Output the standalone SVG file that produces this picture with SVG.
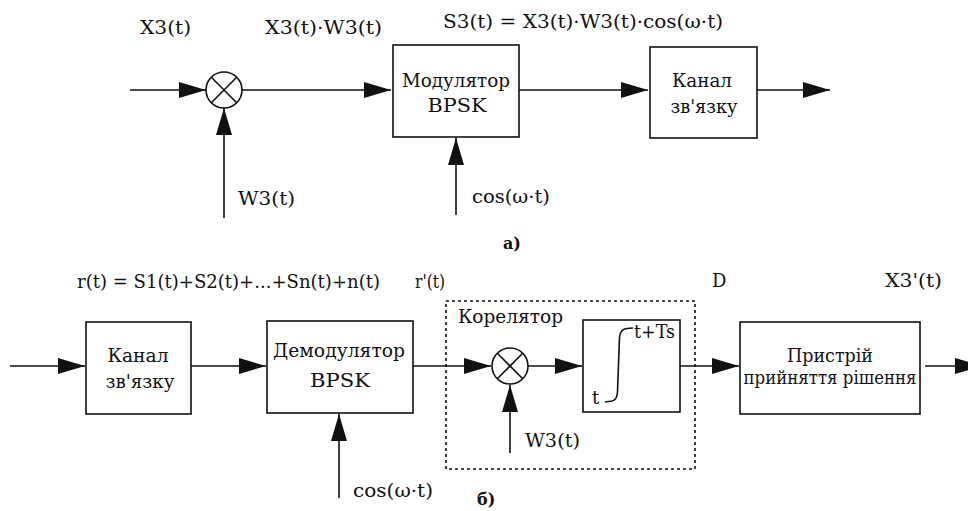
<svg xmlns="http://www.w3.org/2000/svg" width="968" height="511" viewBox="0 0 968 511">
<style>
.box{fill:#fff;stroke:#111;stroke-width:1.6}
.ln{fill:none;stroke:#111;stroke-width:1.6}
.ar{fill:none;stroke:#111;stroke-width:1.6;marker-end:url(#ah)}
.dot{fill:none;stroke:#111;stroke-width:1.6;stroke-dasharray:3 3}
text{fill:#111;font-family:"DejaVu Serif","Liberation Serif",serif}
.lb{font-size:18px}
.bx{font-size:19px;text-anchor:middle}
.bd{font-size:16px;font-weight:bold}
</style>
<defs>
<marker id="ah" markerUnits="userSpaceOnUse" markerWidth="28" markerHeight="16" refX="27" refY="8" orient="auto">
<path d="M0,0 L27,8 L0,16 Z" fill="#111"/>
</marker>
</defs>
<rect width="968" height="511" fill="#fff"/>

<g id="connectors">
<line class="ar" x1="130" y1="90" x2="206" y2="90"/>
<line class="ar" x1="224" y1="218" x2="224" y2="108"/>
<line class="ar" x1="242" y1="90" x2="391" y2="90"/>
<line class="ar" x1="456" y1="215" x2="456" y2="138"/>
<line class="ar" x1="519" y1="90" x2="648" y2="90"/>
<line class="ar" x1="757" y1="90" x2="830" y2="90"/>

<line class="ar" x1="10" y1="366" x2="85" y2="366"/>
<line class="ar" x1="191" y1="366" x2="266" y2="366"/>
<line class="ar" x1="339" y1="498" x2="339" y2="414"/>
<line class="ar" x1="413" y1="366" x2="491" y2="366"/>
<line class="ar" x1="510" y1="453" x2="510" y2="385"/>
<line class="ar" x1="528" y1="366" x2="582" y2="366"/>
<line class="ar" x1="680" y1="366" x2="739" y2="366"/>
<line class="ar" x1="925" y1="366" x2="982" y2="366"/>
</g>

<g id="mult1">
<circle class="box" cx="224" cy="90" r="18"/>
<line class="ln" x1="211.3" y1="77.3" x2="236.7" y2="102.7"/>
<line class="ln" x1="236.7" y1="77.3" x2="211.3" y2="102.7"/>
</g>
<g id="modulator">
<rect class="box" x="393" y="45" width="126" height="92"/>
<text class="bx" x="456" y="87" textLength="108" lengthAdjust="spacingAndGlyphs">Модулятор</text>
<text class="bx" x="457" y="112" textLength="59" lengthAdjust="spacingAndGlyphs">BPSK</text>
</g>
<g id="channel1">
<rect class="box" x="650" y="47" width="107" height="91"/>
<text class="bx" x="702" y="87" textLength="60" lengthAdjust="spacingAndGlyphs">Канал</text>
<text class="bx" x="704" y="113" textLength="67" lengthAdjust="spacingAndGlyphs">зв'язку</text>
</g>
<g id="labels-a">
<text class="lb" x="140" y="34" textLength="51" lengthAdjust="spacingAndGlyphs">X3(t)</text>
<text class="lb" x="265" y="34" textLength="117" lengthAdjust="spacingAndGlyphs">X3(t)·W3(t)</text>
<text class="lb" x="443" y="28" textLength="280" lengthAdjust="spacingAndGlyphs">S3(t) = X3(t)·W3(t)·cos(ω·t)</text>
<text class="lb" x="238" y="205" textLength="57" lengthAdjust="spacingAndGlyphs">W3(t)</text>
<text class="lb" x="472" y="203" textLength="78" lengthAdjust="spacingAndGlyphs">cos(ω·t)</text>
<text class="bd" x="503" y="249">а)</text>
</g>

<g id="channel2">
<rect class="box" x="86" y="322" width="105" height="92"/>
<text class="bx" x="138" y="362" textLength="61" lengthAdjust="spacingAndGlyphs">Канал</text>
<text class="bx" x="140" y="388" textLength="69" lengthAdjust="spacingAndGlyphs">зв'язку</text>
</g>
<g id="demodulator">
<rect class="box" x="267" y="321" width="146" height="92"/>
<text class="bx" x="339" y="357" textLength="132" lengthAdjust="spacingAndGlyphs">Демодулятор</text>
<text class="bx" x="340" y="387" textLength="60" lengthAdjust="spacingAndGlyphs">BPSK</text>
</g>
<g id="correlator">
<rect class="dot" x="446" y="301" width="249" height="168"/>
<text class="lb" x="458" y="323" textLength="105" lengthAdjust="spacingAndGlyphs">Корелятор</text>
</g>
<g id="mult2">
<circle class="box" cx="510" cy="366" r="18"/>
<line class="ln" x1="497.3" y1="353.3" x2="522.7" y2="378.7"/>
<line class="ln" x1="522.7" y1="353.3" x2="497.3" y2="378.7"/>
</g>
<g id="integrator">
<rect class="box" x="583" y="320" width="97" height="92"/>
<path class="ln" d="M605,402 L612,401 Q617,400 617.5,392 L619.5,337 Q620.5,329 627,328.5 L633,328" stroke-width="1.3"/>
<text class="lb" x="592" y="404">t</text>
<text class="lb" x="634" y="338" textLength="41" lengthAdjust="spacingAndGlyphs">t+Ts</text>
</g>
<g id="decision">
<rect class="box" x="740" y="322" width="180" height="92"/>
<text class="bx" x="830" y="362" textLength="86" lengthAdjust="spacingAndGlyphs">Пристрій</text>
<text class="bx" x="830" y="384" textLength="173" lengthAdjust="spacingAndGlyphs">прийняття рішення</text>
</g>
<g id="labels-b">
<text class="lb" x="77" y="288" textLength="303" lengthAdjust="spacingAndGlyphs">r(t) = S1(t)+S2(t)+...+Sn(t)+n(t)</text>
<text class="lb" x="415" y="288" textLength="30" lengthAdjust="spacingAndGlyphs">r'(t)</text>
<text class="lb" x="712" y="287">D</text>
<text class="lb" x="885" y="287" textLength="57" lengthAdjust="spacingAndGlyphs">X3'(t)</text>
<text class="lb" x="353" y="497" textLength="80" lengthAdjust="spacingAndGlyphs">cos(ω·t)</text>
<text class="lb" x="525" y="447" textLength="55" lengthAdjust="spacingAndGlyphs">W3(t)</text>
<text class="bd" x="477" y="505">б)</text>
</g>
</svg>
